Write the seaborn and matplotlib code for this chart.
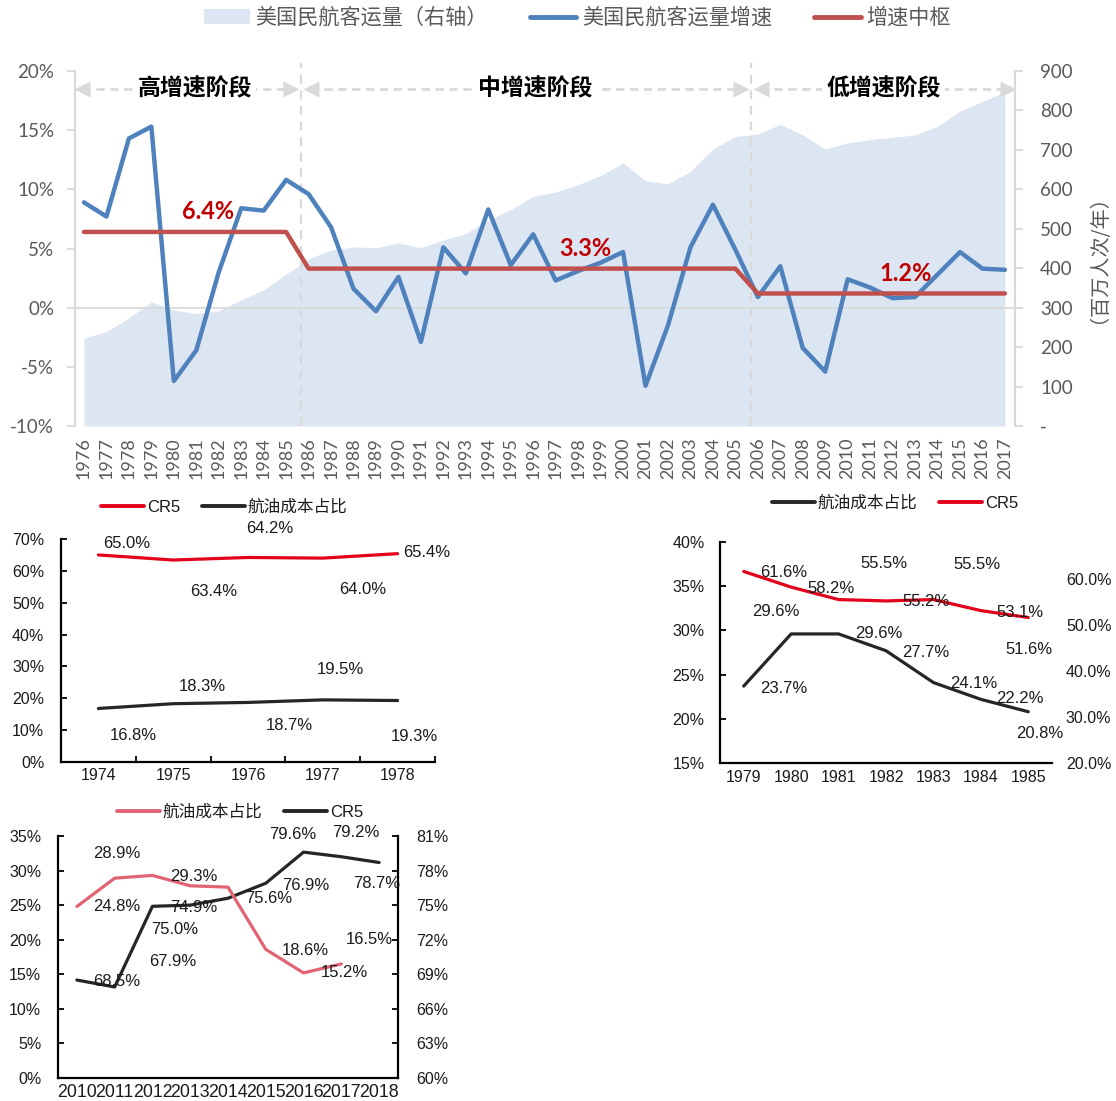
import numpy as np
import pandas as pd
import matplotlib
matplotlib.use("Agg")
import matplotlib.pyplot as plt
import seaborn as sns
from matplotlib.ticker import FuncFormatter, FixedLocator
from matplotlib.lines import Line2D
from matplotlib.patches import Patch

sns.set_theme(style="white")
FM = ['Lato', 'Noto Sans CJK SC', 'DejaVu Sans']
FS = ['Liberation Sans', 'Noto Sans CJK SC', 'DejaVu Sans']
FC = ['Noto Sans CJK SC', 'DejaVu Sans']
plt.rcParams['font.family'] = FS
plt.rcParams['axes.unicode_minus'] = False

# ---------------- data ----------------
years_main = [str(y) for y in range(1976, 2018)]
growth = [8.9, 7.7, 14.3, 15.3, -6.2, -3.6, 3.0, 8.4, 8.2, 10.8,
          9.6, 6.8, 1.6, -0.3, 2.6, -2.9, 5.1, 2.9, 8.3, 3.6,
          6.2, 2.3, 3.1, 3.8, 4.7, -6.6, -1.5, 5.1, 8.7, 4.9,
          0.9, 3.5, -3.4, -5.4, 2.4, 1.7, 0.8, 0.9, 2.8, 4.7, 3.3, 3.2]
median = [6.4, 6.4, 6.4, 6.4, 6.4, 6.4, 6.4, 6.4, 6.4, 6.4,
          3.3, 3.3, 3.3, 3.3, 3.3, 3.3, 3.3, 3.3, 3.3, 3.3,
          3.3, 3.3, 3.3, 3.3, 3.3, 3.3, 3.3, 3.3, 3.3, 3.3,
          1.2, 1.2, 1.2, 1.2, 1.2, 1.2, 1.2, 1.2, 1.2, 1.2, 1.2, 1.2]
passengers = [223, 239, 274, 315, 294, 285, 292, 320, 345, 385,
              424, 446, 454, 452, 464, 452, 472, 488, 522, 549,
              582, 593, 612, 635, 667, 622, 614, 645, 702, 734,
              740, 765, 738, 702, 718, 726, 732, 738, 760, 798, 823, 847]
stage_names = ['高增速阶段', '中增速阶段', '低增速阶段']
stage_levels = ['6.4%', '3.3%', '1.2%']

years_a = ['1974', '1975', '1976', '1977', '1978']
cr5_a = [65.0, 63.4, 64.2, 64.0, 65.4]
fuel_a = [16.8, 18.3, 18.7, 19.5, 19.3]

years_b = ['1979', '1980', '1981', '1982', '1983', '1984', '1985']
fuel_b = [23.7, 29.6, 29.6, 27.7, 24.1, 22.2, 20.8]
cr5_b = [61.6, 58.2, 55.5, 55.2, 55.5, 53.1, 51.6]

years_c = ['2010', '2011', '2012', '2013', '2014', '2015', '2016', '2017', '2018']
fuel_c = [24.8, 28.9, 29.3, 27.8, 27.6, 18.6, 15.2, 16.5, np.nan]
cr5_c = [68.5, 67.9, 74.9, 75.0, 75.6, 76.9, 79.6, 79.2, 78.7]

# label offsets (pixels) - styling only
off_cr5_a = [(28, 11), (40, -31), (22, 29), (40, -31), (29, 1)]
off_fuel_a = [(35, -27), (29, 17), (41, -23), (18, 30), (17, -36)]
off_cr5_b = [(40, -1), (40, -1), (45, 36), (40, -1), (44, 35), (39, -2), (1, -32)]
off_fuel_b = [(40, -2), (-15, 22), (40, 0), (40, -2), (40, -1), (39, 1), (11, -22)]
off_fuel_c = [(40, 0), (2, 25), (41, -1), None, None, (40, -1), (41, 0), (28, 24), None]
off_cr5_c = [(40, -1), (58, 25), (41, -1), (-16, -24), (41, 0), (40, -2), (-11, 18), (14, 24), (-2, -21)]

# ---------------- figure ----------------
W, H = 1116, 1101


def rect(l, t, r, b):
    return [l / W, 1 - b / H, (r - l) / W, (b - t) / H]


fig = plt.figure(figsize=(W / 100, H / 100), dpi=100)
fig.patch.set_facecolor('white')

GRAY = '#595959'
LGRAY = '#D9D9D9'
AREA = '#DCE6F2'
BLUE = '#4F81BD'
RED = '#C0504D'

# ---------- main chart ----------
ax = fig.add_axes(rect(75, 71, 1015, 426))
axr = ax.twinx()
n = len(years_main)
df_main = pd.DataFrame({'idx': np.arange(n), 'growth': growth,
                        'median': median, 'pax': passengers})
axr.fill_between(df_main['idx'], 0, df_main['pax'], color=AREA, lw=0)
axr.set_ylim(0, 900)
axr.set_yticks(range(0, 901, 100))
axr.yaxis.set_major_formatter(FuncFormatter(lambda v, p: '-' if v == 0 else f'{int(v)}'))
axr.tick_params(axis='y', colors=GRAY, labelsize=13.5, length=6, width=1.3,
                color=LGRAY, pad=12, labelfontfamily=FM)
axr.set_ylabel('（百万人次/年）', color=GRAY, fontsize=14.5, family=FC, labelpad=4)

sns.lineplot(data=df_main, x='idx', y='growth', ax=ax, color=BLUE, lw=3.2, zorder=3)
sns.lineplot(data=df_main, x='idx', y='median', ax=ax, color=RED, lw=3.2, zorder=4)
ax.set_zorder(axr.get_zorder() + 1)
ax.patch.set_visible(False)
ax.set_xlim(-0.4, n - 1 + 0.45)
axr.set_xlim(-0.4, n - 1 + 0.45)
ax.set_ylim(-10, 20)
ax.set_yticks(range(-10, 21, 5))
ax.yaxis.set_major_formatter(FuncFormatter(lambda v, p: f'{int(v)}%'))
ax.set_xticks(np.arange(n))
ax.set_xticklabels(years_main, rotation=90)
ax.tick_params(axis='y', colors=GRAY, labelsize=13.5, length=6, width=1.3,
               color=LGRAY, pad=9, labelfontfamily=FM)
ax.tick_params(axis='x', colors=GRAY, labelsize=13, length=0, pad=8, labelfontfamily=FM)
ax.set_xlabel('')
ax.set_ylabel('')
for a in (ax, axr):
    for s in a.spines.values():
        s.set_visible(False)
ax.spines['left'].set_visible(True)
ax.spines['left'].set_color(LGRAY)
ax.spines['left'].set_linewidth(1.5)
axr.spines['right'].set_visible(True)
axr.spines['right'].set_color(LGRAY)
axr.spines['right'].set_linewidth(1.5)
ax.axhline(0, color=LGRAY, lw=1.3, zorder=1)

# stage separators
for xb in (9.65, 29.68):
    ax.plot([xb, xb], [-10, 20.7], color=LGRAY, lw=1.6, ls=(0, (4, 3)),
            clip_on=False, zorder=2)
yarr = 18.5
stage_spans = [(-0.4, 9.55), (9.78, 29.55), (29.8, n - 1 + 0.45)]
stage_text_x = [4.95, 20.1, 35.6]
for (x0, x1), name, tx in zip(stage_spans, stage_names, stage_text_x):
    ax.plot([x0 + 0.3, x1 - 0.3], [yarr, yarr], color=LGRAY, lw=2, ls=(0, (3, 2)),
            clip_on=False, zorder=2)
    ax.plot([x0 + 0.32], [yarr], marker='<', ms=11, color=LGRAY, mec='none', clip_on=False, zorder=2)
    ax.plot([x1 - 0.32], [yarr], marker='>', ms=11, color=LGRAY, mec='none', clip_on=False, zorder=2)
    ax.text(tx, yarr, name, ha='center', va='center', fontsize=16.5, weight='bold',
            color='black', family=FC, zorder=5,
            bbox=dict(facecolor='white', edgecolor='none', pad=3))

# median labels
stage_label_x = [5.52, 22.3, 36.6]
stage_first = [0, 10, 30]
for tx, i0, lab in zip(stage_label_x, stage_first, stage_levels):
    ax.text(tx, median[i0] + 1.7, lab, ha='center', va='center', fontsize=17,
            weight='bold', color='#C00000', family=FM, zorder=6)

leg_handles = [Patch(facecolor=AREA, edgecolor='none'),
               Line2D([], [], color=BLUE, lw=3.5),
               Line2D([], [], color=RED, lw=3.5)]
fig.legend(leg_handles, ['美国民航客运量（右轴）', '美国民航客运量增速', '增速中枢'],
           loc='center', bbox_to_anchor=(577 / W, 1 - 18 / H), ncol=3, frameon=False,
           handlelength=2.2, handletextpad=0.25, columnspacing=2.0,
           prop={'family': FC, 'size': 15.2}, labelcolor=GRAY)


def label_series(a, xs, vals, offs, fmt='{:.1f}%'):
    for x, v, o in zip(xs, vals, offs):
        if o is None or v is None or (isinstance(v, float) and np.isnan(v)):
            continue
        a.annotate(fmt.format(v), (x, v), xytext=o, textcoords='offset pixels',
                   ha='center', va='center', fontsize=12, color='#1a1a1a',
                   family=FS, zorder=6, annotation_clip=False)


def small_style(a, sides):
    for k, s in a.spines.items():
        s.set_visible(k in sides)
        s.set_color('black')
        s.set_linewidth(1.6)


BLK = '#262626'
CRRED = '#E3001B'
PINK = '#E26374'

# ---------- chart A (1974-1978) ----------
axa = fig.add_axes(rect(61, 539, 435, 762))
xa = np.arange(len(years_a))
df_a = pd.DataFrame({'x': xa, 'cr5': cr5_a, 'fuel': fuel_a})
sns.lineplot(data=df_a, x='x', y='cr5', ax=axa, color=CRRED, lw=2.3)
sns.lineplot(data=df_a, x='x', y='fuel', ax=axa, color=BLK, lw=2.3)
axa.set_xlim(-0.5, len(years_a) - 0.5)
axa.set_ylim(0, 70)
axa.set_yticks(range(0, 71, 10))
axa.yaxis.set_major_formatter(FuncFormatter(lambda v, p: f'{int(v)}%'))
axa.set_xticks(xa)
axa.set_xticklabels(years_a)
axa.xaxis.set_minor_locator(FixedLocator(np.arange(-0.5, len(years_a), 1.0)))
axa.tick_params(axis='x', which='major', length=0, labelsize=11.5, colors='#1a1a1a', pad=4)
axa.tick_params(axis='x', which='minor', length=4, width=1.3, direction='in', color='black', bottom=True)
axa.tick_params(axis='y', length=4, width=1.3, direction='in', color='black', labelsize=11.5,
                colors='#1a1a1a', pad=12, left=True)
axa.set_xlabel('')
axa.set_ylabel('')
small_style(axa, ('left', 'bottom'))
label_series(axa, xa, cr5_a, off_cr5_a)
label_series(axa, xa, fuel_a, off_fuel_a)
fig.legend([Line2D([], [], color=CRRED, lw=2.8), Line2D([], [], color=BLK, lw=2.8)],
           ['CR5', '航油成本占比'], loc='center', bbox_to_anchor=(224 / W, 1 - 507 / H),
           ncol=2, frameon=False, handlelength=2.6, handletextpad=0.15, columnspacing=1.3,
           prop={'family': FS, 'size': 12}, labelcolor='#1a1a1a')

# ---------- chart B (1979-1985) ----------
axb = fig.add_axes(rect(720, 542, 1052, 763))
axb_r = axb.twinx()
xb_ = np.arange(len(years_b))
df_b = pd.DataFrame({'x': xb_, 'fuel': fuel_b, 'cr5': cr5_b})
sns.lineplot(data=df_b, x='x', y='fuel', ax=axb, color=BLK, lw=2.3)
sns.lineplot(data=df_b, x='x', y='cr5', ax=axb_r, color=CRRED, lw=2.3)
axb.set_xlim(-0.5, len(years_b) - 0.5)
axb.set_ylim(15, 40)
axb.set_yticks(range(15, 41, 5))
axb.yaxis.set_major_formatter(FuncFormatter(lambda v, p: f'{int(v)}%'))
axb_r.set_ylim(20, 68.0)
axb_r.set_yticks(range(20, 61, 10))
axb_r.yaxis.set_major_formatter(FuncFormatter(lambda v, p: f'{v:.1f}%'))
axb.set_xticks(xb_)
axb.set_xticklabels(years_b)
axb.tick_params(axis='x', length=0, labelsize=11.5, colors='#1a1a1a', pad=5)
axb.tick_params(axis='y', length=4, width=1.3, direction='in', color='black', labelsize=11.5,
                colors='#1a1a1a', pad=11, left=True)
axb_r.tick_params(axis='y', length=0, labelsize=11.5, colors='#1a1a1a', pad=10)
for a in (axb, axb_r):
    a.set_xlabel('')
    a.set_ylabel('')
small_style(axb, ('left', 'bottom'))
small_style(axb_r, ())
label_series(axb_r, xb_, cr5_b, off_cr5_b)
label_series(axb, xb_, fuel_b, off_fuel_b)
fig.legend([Line2D([], [], color=BLK, lw=2.8), Line2D([], [], color=CRRED, lw=2.8)],
           ['航油成本占比', 'CR5'], loc='center', bbox_to_anchor=(895 / W, 1 - 503 / H),
           ncol=2, frameon=False, handlelength=2.6, handletextpad=0.15, columnspacing=1.3,
           prop={'family': FS, 'size': 12}, labelcolor='#1a1a1a')

# ---------- chart C (2010-2018) ----------
axc = fig.add_axes(rect(58, 836, 398, 1078))
axc_r = axc.twinx()
xc = np.arange(len(years_c))
df_c = pd.DataFrame({'x': xc, 'fuel': fuel_c, 'cr5': cr5_c})
sns.lineplot(data=df_c.dropna(), x='x', y='fuel', ax=axc, color=PINK, lw=2.3)
sns.lineplot(data=df_c, x='x', y='cr5', ax=axc_r, color=BLK, lw=2.3)
axc.set_xlim(-0.5, len(years_c) - 0.5)
axc.set_ylim(0, 35)
axc.set_yticks(range(0, 36, 5))
axc.yaxis.set_major_formatter(FuncFormatter(lambda v, p: f'{int(v)}%'))
axc_r.set_ylim(60, 81)
axc_r.set_yticks(range(60, 82, 3))
axc_r.yaxis.set_major_formatter(FuncFormatter(lambda v, p: f'{int(v)}%'))
axc.set_xticks(xc)
axc.set_xticklabels(years_c)
axc.tick_params(axis='x', length=0, labelsize=12.8, colors='#1a1a1a', pad=4)
axc.tick_params(axis='y', length=4, width=1.3, direction='in', color='black', labelsize=11.5,
                colors='#1a1a1a', pad=12, left=True)
axc_r.tick_params(axis='y', length=4, width=1.3, direction='in', color='black', labelsize=11.5,
                  colors='#1a1a1a', pad=13, right=True)
for a in (axc, axc_r):
    a.set_xlabel('')
    a.set_ylabel('')
small_style(axc, ('left', 'bottom'))
small_style(axc_r, ('right',))
axc.set_zorder(axc_r.get_zorder() + 1)
axc.patch.set_visible(False)
label_series(axc, xc, fuel_c, off_fuel_c)
label_series(axc_r, xc, cr5_c, off_cr5_c)
fig.legend([Line2D([], [], color=PINK, lw=2.8), Line2D([], [], color=BLK, lw=2.8)],
           ['航油成本占比', 'CR5'], loc='center', bbox_to_anchor=(240 / W, 1 - 812 / H),
           ncol=2, frameon=False, handlelength=2.6, handletextpad=0.15, columnspacing=1.3,
           prop={'family': FS, 'size': 12}, labelcolor='#1a1a1a')

fig.savefig('out.png', dpi=100, facecolor='white')
